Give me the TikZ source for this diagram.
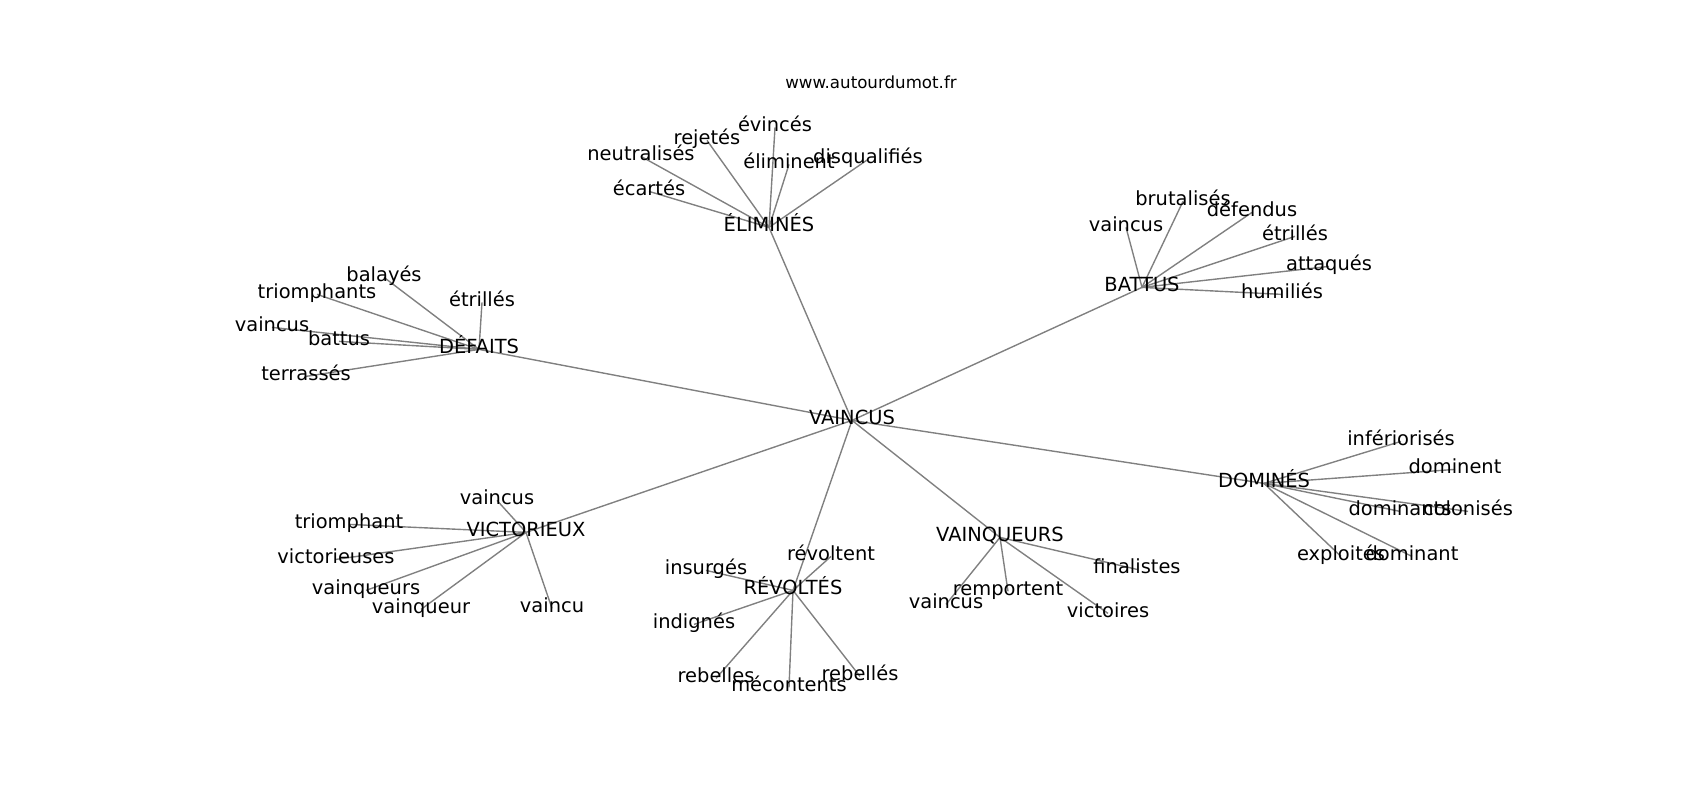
\documentclass[tikz,border=0pt]{standalone}
\usepackage{fontspec}
\setmainfont{DejaVu Sans}
\usetikzlibrary{backgrounds}
\begin{document}
\begin{tikzpicture}
        [
            x=0.72bp, y=-0.72bp,
            word/.style={inner sep=0pt, yshift=-1bp, text height=0.76em, text depth=0.208em, font=\fontsize{14bp}{17bp}\selectfont},
            site/.style={inner sep=0pt, text height=0.76em, text depth=0.208em, font=\fontsize{12bp}{14bp}\selectfont},
            link/.style={draw=black!50, line width=1bp},
        ]
            \useasboundingbox (0,0) rectangle (1700,800);
            \node[site] (site) at (871, 85) {www.autourdumot.fr};

            \node[word] (V) at (852, 419) {VAINCUS};

            \node[word] (E) at (769, 226) {ÉLIMINÉS};
            \node[word] (E1) at (775, 126) {évincés};
            \node[word] (E2) at (707, 139) {rejetés};
            \node[word] (E3) at (641, 155) {neutralisés};
            \node[word] (E4) at (649, 190) {écartés};
            \node[word] (E5) at (789, 163) {éliminent};
            \node[word] (E6) at (868, 158) {disqualifiés};

            \node[word] (D) at (479, 348) {DÉFAITS};
            \node[word] (D1) at (384, 276) {balayés};
            \node[word] (D2) at (317, 293) {triomphants};
            \node[word] (D3) at (482, 301) {étrillés};
            \node[word] (D4) at (272, 326) {vaincus};
            \node[word] (D5) at (339, 340) {battus};
            \node[word] (D6) at (306, 375) {terrassés};

            \node[word] (B) at (1142, 286) {BATTUS};
            \node[word] (B1) at (1183, 200) {brutalisés};
            \node[word] (B2) at (1252, 211) {défendus};
            \node[word] (B3) at (1126, 226) {vaincus};
            \node[word] (B4) at (1295, 235) {étrillés};
            \node[word] (B5) at (1329, 265) {attaqués};
            \node[word] (B6) at (1282, 293) {humiliés};

            \node[word] (Dm) at (1264, 482) {DOMINÉS};
            \node[word] (Dm1) at (1401, 440) {infériorisés};
            \node[word] (Dm2) at (1455, 468) {dominent};
            \node[word] (Dm3) at (1400, 510) {dominants};
            \node[word] (Dm4) at (1468, 510) {colonisés};
            \node[word] (Dm5) at (1341, 555) {exploités};
            \node[word] (Dm6) at (1412, 555) {dominant};

            \node[word] (Vi) at (526, 531) {VICTORIEUX};
            \node[word] (Vi1) at (497, 499) {vaincus};
            \node[word] (Vi2) at (349, 523) {triomphant};
            \node[word] (Vi3) at (336, 558) {victorieuses};
            \node[word] (Vi4) at (366, 589) {vainqueurs};
            \node[word] (Vi5) at (421, 608) {vainqueur};
            \node[word] (Vi6) at (552, 607) {vaincu};

            \node[word] (R) at (793, 589) {RÉVOLTÉS};
            \node[word] (R1) at (831, 555) {révoltent};
            \node[word] (R2) at (706, 569) {insurgés};
            \node[word] (R3) at (694, 623) {indignés};
            \node[word] (R4) at (716, 677) {rebelles};
            \node[word] (R5) at (789, 686) {mécontents};
            \node[word] (R6) at (860, 675) {rebellés};

            \node[word] (Vq) at (1000, 536) {VAINQUEURS};
            \node[word] (Vq1) at (1008, 590) {remportent};
            \node[word] (Vq2) at (946, 603) {vaincus};
            \node[word] (Vq3) at (1108, 612) {victoires};
            \node[word] (Vq4) at (1137, 568) {finalistes};

            \begin{scope}[on background layer]
            \draw[link] (V.center) -- (E.center);
            \draw[link] (V.center) -- (D.center);
            \draw[link] (V.center) -- (B.center);
            \draw[link] (V.center) -- (Dm.center);
            \draw[link] (V.center) -- (Vi.center);
            \draw[link] (V.center) -- (R.center);
            \draw[link] (V.center) -- (Vq.center);

            \draw[link] (E.center) -- (E1.center);
            \draw[link] (E.center) -- (E2.center);
            \draw[link] (E.center) -- (E3.center);
            \draw[link] (E.center) -- (E4.center);
            \draw[link] (E.center) -- (E5.center);
            \draw[link] (E.center) -- (E6.center);

            \draw[link] (D.center) -- (D1.center);
            \draw[link] (D.center) -- (D2.center);
            \draw[link] (D.center) -- (D3.center);
            \draw[link] (D.center) -- (D4.center);
            \draw[link] (D.center) -- (D5.center);
            \draw[link] (D.center) -- (D6.center);

            \draw[link] (B.center) -- (B1.center);
            \draw[link] (B.center) -- (B2.center);
            \draw[link] (B.center) -- (B3.center);
            \draw[link] (B.center) -- (B4.center);
            \draw[link] (B.center) -- (B5.center);
            \draw[link] (B.center) -- (B6.center);

            \draw[link] (Dm.center) -- (Dm1.center);
            \draw[link] (Dm.center) -- (Dm2.center);
            \draw[link] (Dm.center) -- (Dm3.center);
            \draw[link] (Dm.center) -- (Dm4.center);
            \draw[link] (Dm.center) -- (Dm5.center);
            \draw[link] (Dm.center) -- (Dm6.center);

            \draw[link] (Vi.center) -- (Vi1.center);
            \draw[link] (Vi.center) -- (Vi2.center);
            \draw[link] (Vi.center) -- (Vi3.center);
            \draw[link] (Vi.center) -- (Vi4.center);
            \draw[link] (Vi.center) -- (Vi5.center);
            \draw[link] (Vi.center) -- (Vi6.center);

            \draw[link] (R.center) -- (R1.center);
            \draw[link] (R.center) -- (R2.center);
            \draw[link] (R.center) -- (R3.center);
            \draw[link] (R.center) -- (R4.center);
            \draw[link] (R.center) -- (R5.center);
            \draw[link] (R.center) -- (R6.center);

            \draw[link] (Vq.center) -- (Vq1.center);
            \draw[link] (Vq.center) -- (Vq2.center);
            \draw[link] (Vq.center) -- (Vq3.center);
            \draw[link] (Vq.center) -- (Vq4.center);
            \end{scope}
        \end{tikzpicture}
\end{document}
